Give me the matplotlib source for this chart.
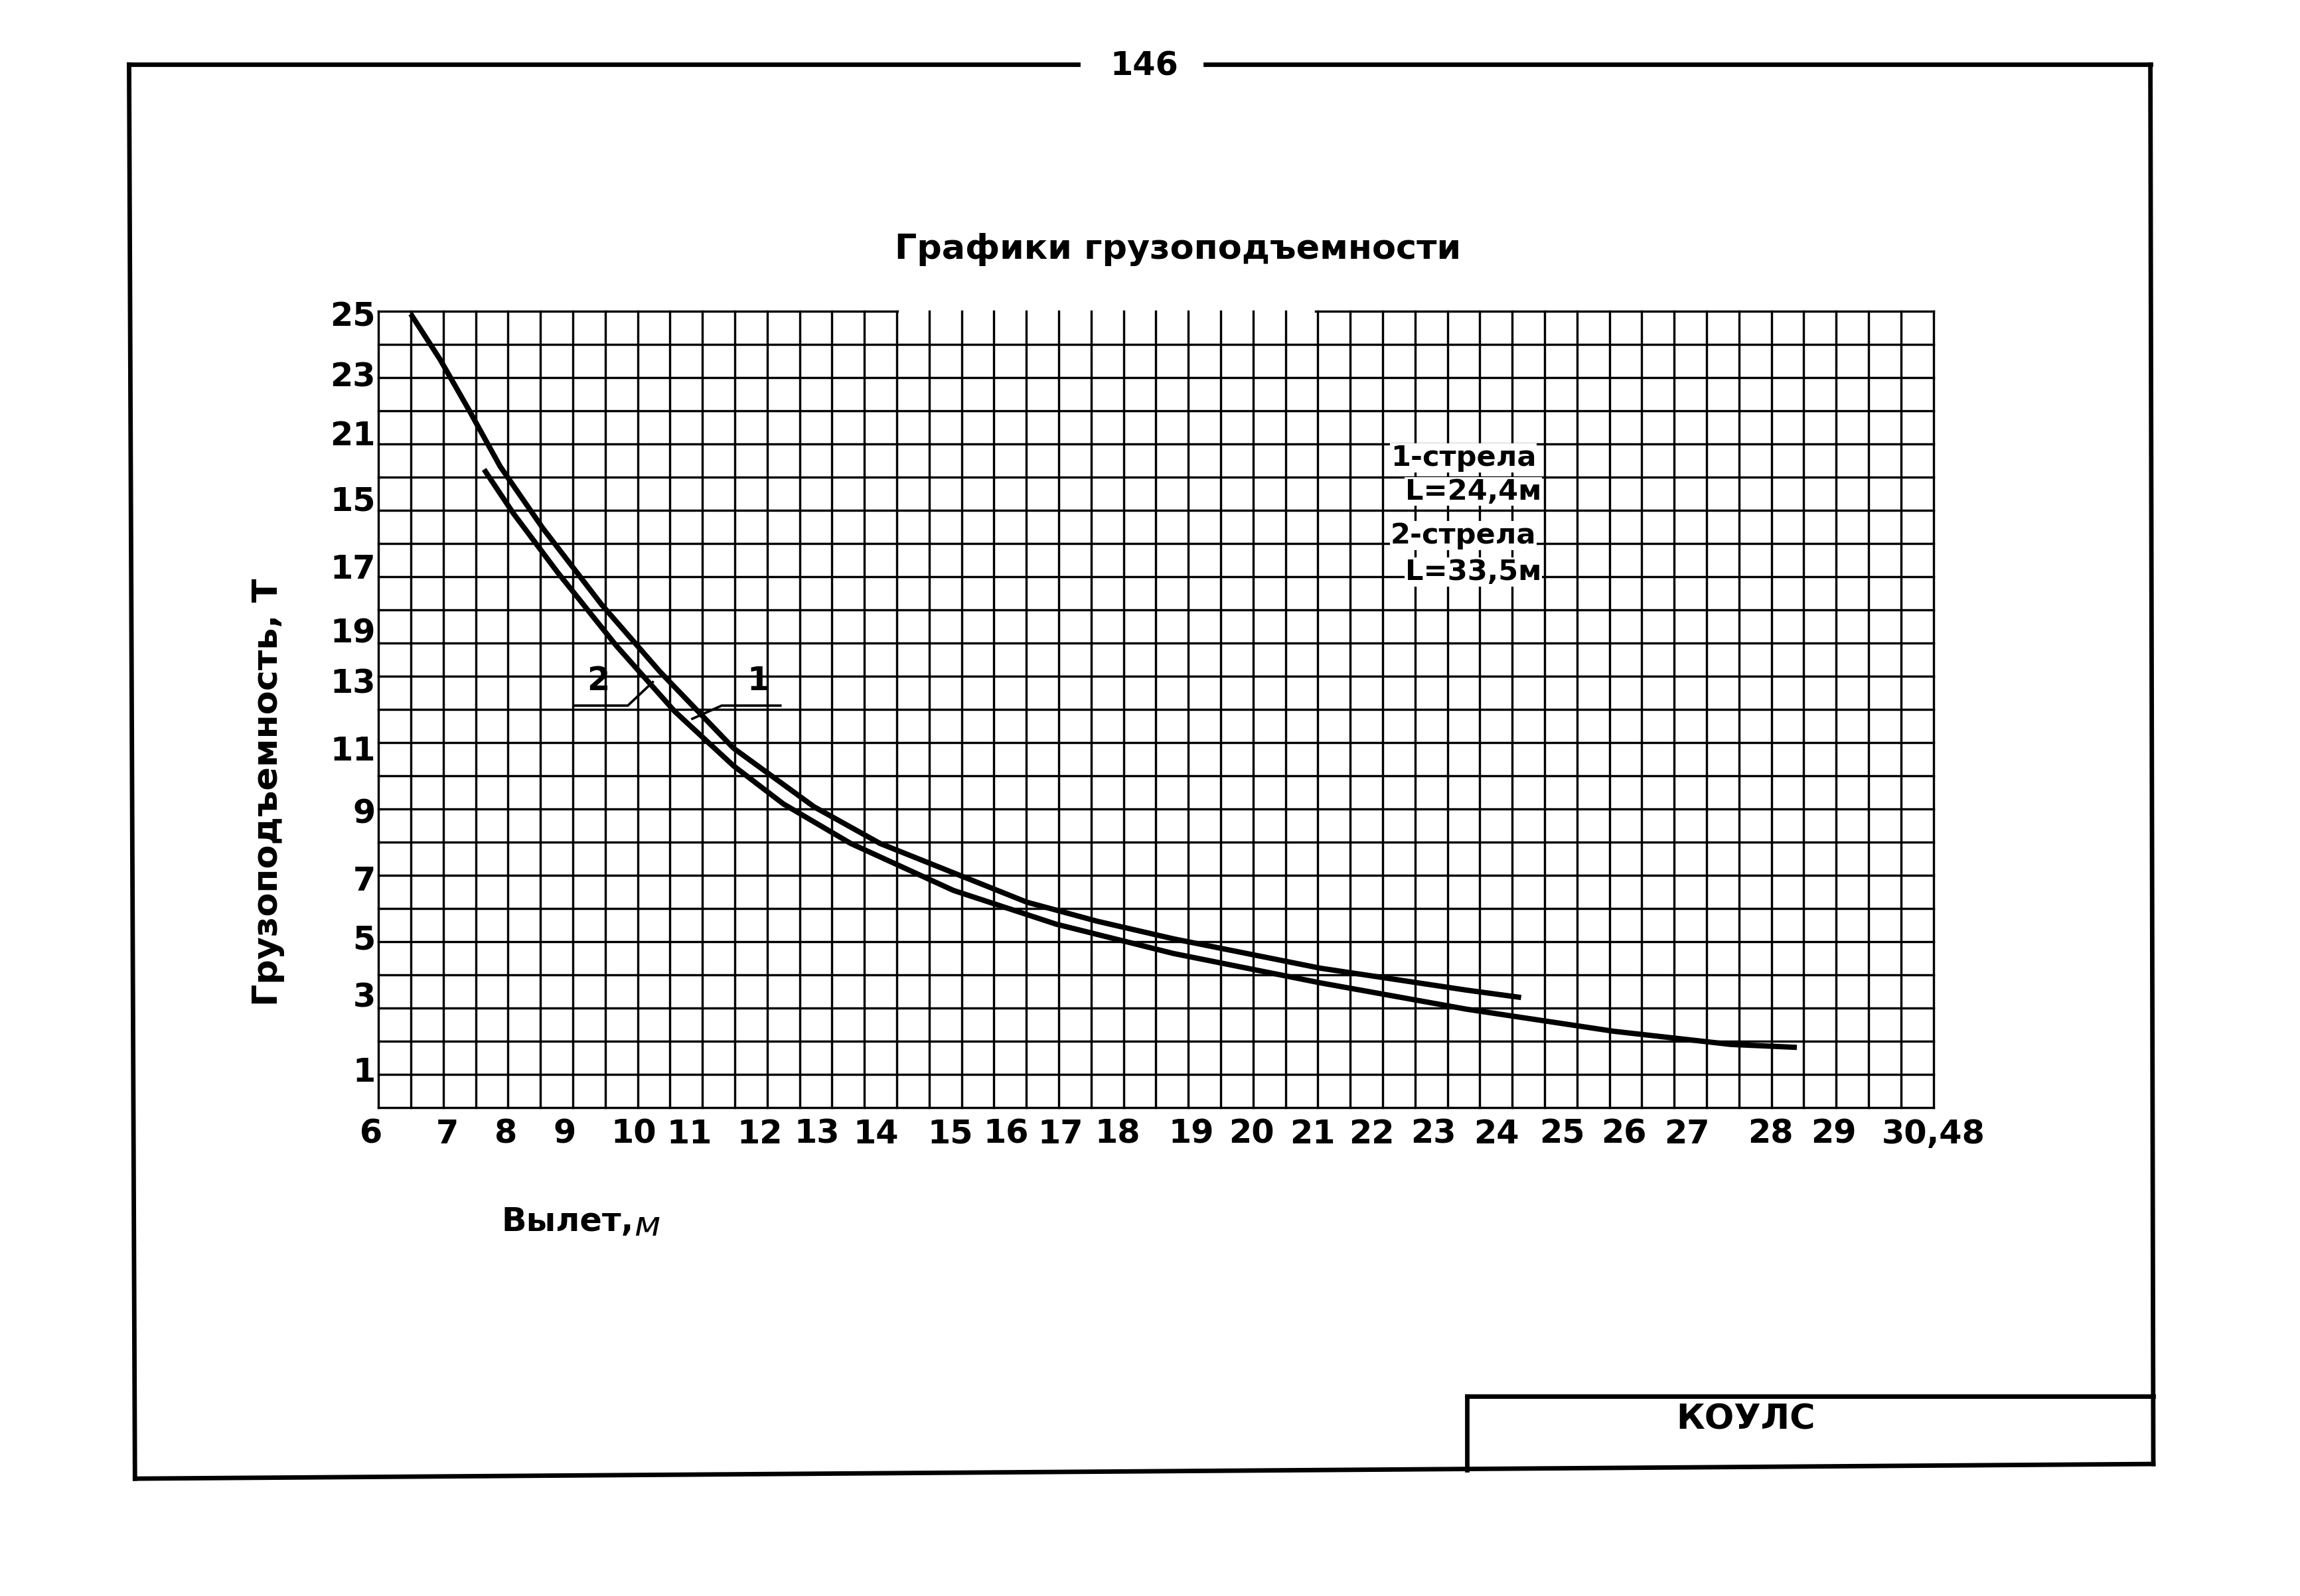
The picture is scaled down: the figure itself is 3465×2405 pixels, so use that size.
import matplotlib
matplotlib.use("Agg")
import matplotlib.pyplot as plt

plt.rcParams['font.family'] = ['DejaVu Sans']

# Tick labels as printed (positions in reference page pixels)
x_labels = ["6","7","8","9","10","11","12","13","14","15","16","17","18","19","20",
            "21","22","23","24","25","26","27","28","29","30,48"]
x_label_pos = [253,305,345,385,432,470,518,557,597,648,686,723,762,812,853,
               895,935,977,1020,1065,1107,1150,1207,1250,1318]
y_labels = ["25","23","21","15","17","19","13","11","9","7","5","3","1"]
y_label_pos = [216,257,297,342,388,432,466,512,555,601,641,680,731]

# Curve 1 (upper, boom L=24.4 m) and curve 2 (lower, boom L=33.5 m), page pixel positions
curve1_x = [280,300,320,341,370,410,450,500,555,600,650,700,748,800,900,1000,1037]
curve1_y = [214,245,280,318,360,412,458,510,550,575,595,615,628,640,660,675,680]
curve2_x = [330,350,380,420,460,500,534,580,650,720,748,800,900,1000,1100,1180,1225]
curve2_y = [320,350,390,440,485,522,548,575,607,630,637,650,670,688,703,712,714]

W, H = 1568, 1088
fig = plt.figure(figsize=(3465/222, 2405/222), dpi=222)
ax = fig.add_axes([0, 0, 1, 1])
ax.set_xlim(0, W); ax.set_ylim(H, 0); ax.axis('off')

lw = 2.2
ax.plot([90, 735], [44, 44], 'k', lw=lw)
ax.plot([822, 1466], [44, 44], 'k', lw=lw)
ax.plot([88, 92], [44, 1008], 'k', lw=lw)
ax.plot([1466, 1468], [44, 998], 'k', lw=lw)
ax.plot([92, 1468], [1008, 998], 'k', lw=lw)
ax.plot([1000, 1468], [952, 952], 'k', lw=lw)
ax.plot([1000, 1000], [952, 1002], 'k', lw=lw)
ax.text(780, 45, "146", ha='center', va='center', fontsize=16, fontweight='bold')
ax.text(1190, 968, "КОУЛС", ha='center', va='center', fontsize=17, fontweight='bold')
ax.text(803, 170, "Графики грузоподъемности", ha='center', va='center', fontsize=17, fontweight='bold')

x0, x1, y0, y1 = 258, 1318, 212, 755
nx, ny = 48, 24
for i in range(nx + 1):
    x = x0 + (x1 - x0) * i / nx
    ax.plot([x, x], [y0, y1], 'k', lw=1.1)
for j in range(ny + 1):
    y = y0 + (y1 - y0) * j / ny
    if j == 0:
        ax.plot([x0, 612], [y, y], 'k', lw=1.1)
        ax.plot([897, x1], [y, y], 'k', lw=1.1)
    else:
        ax.plot([x0, x1], [y, y], 'k', lw=1.1)

ax.plot(curve1_x, curve1_y, 'k', lw=2.6, solid_capstyle='butt', solid_joinstyle='round')
ax.plot(curve2_x, curve2_y, 'k', lw=2.6, solid_capstyle='butt', solid_joinstyle='round')

for t, p in zip(x_labels, x_label_pos):
    ax.text(p, 773, t, ha='center', va='center', fontsize=16, fontweight='bold')
for t, p in zip(y_labels, y_label_pos):
    ax.text(256, p, t, ha='right', va='center', fontsize=16, fontweight='bold')

ax.text(183, 540, "Грузоподъемность, Т", rotation=90, ha='center', va='center', fontsize=17, fontweight='bold')
ax.text(342, 833, "Вылет,", ha='left', va='center', fontsize=16, fontweight='bold')
ax.text(432, 836, "м", ha='left', va='center', fontsize=17, style='italic')

for txt, y in [("1-стрела", 312), ("L=24,4м", 335), ("2-стрела", 365), ("L=33,5м", 390)]:
    xx = 948 if txt.startswith(("1", "2")) else 958
    ax.text(xx, y, txt, ha='left', va='center', fontsize=14, fontweight='bold',
            bbox=dict(facecolor='white', edgecolor='none', pad=0.3))

ax.text(408, 464, "2", ha='center', va='center', fontsize=16, fontweight='bold')
ax.text(517, 464, "1", ha='center', va='center', fontsize=16, fontweight='bold')
ax.plot([392, 428, 445], [481, 481, 465], 'k', lw=1.2)
ax.plot([532, 492, 472], [481, 481, 490], 'k', lw=1.2)

fig.savefig("out.png", dpi=222)
